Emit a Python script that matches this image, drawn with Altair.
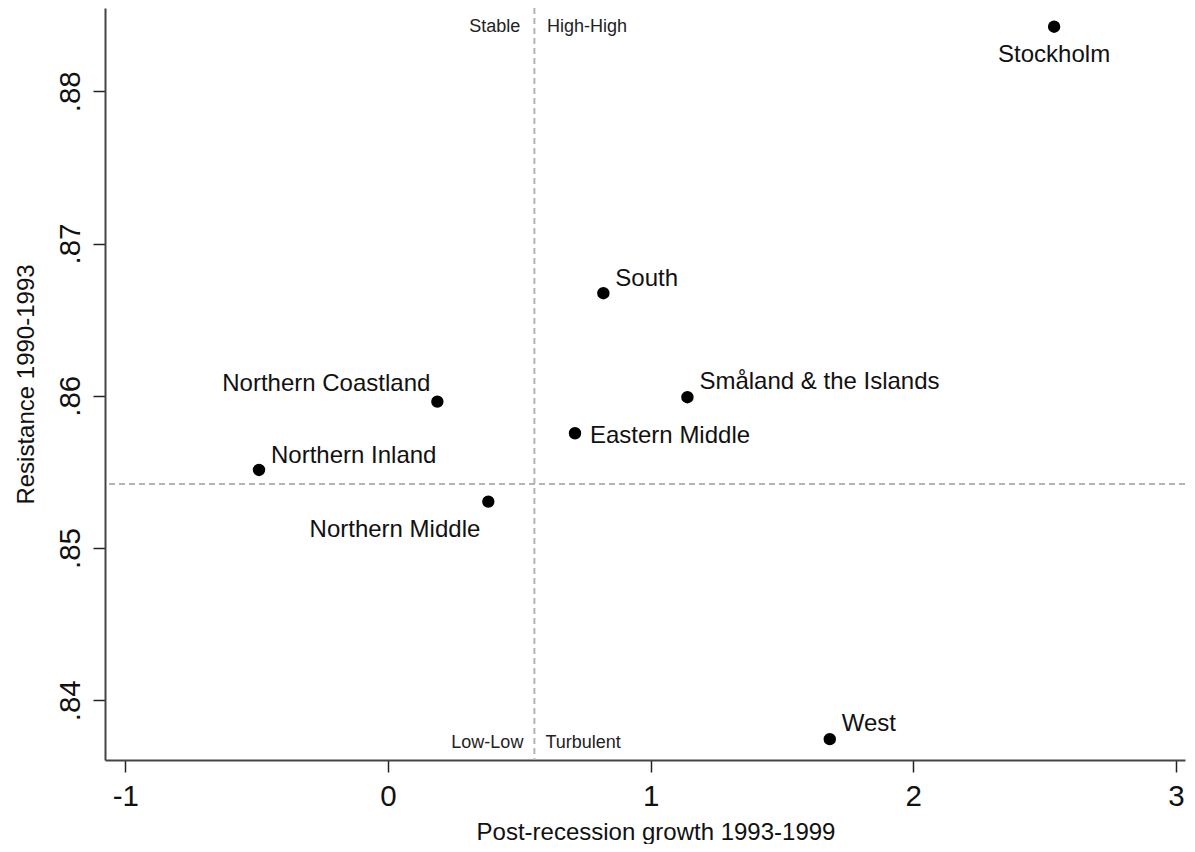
import altair as alt
import pandas as pd

FONT = "Liberation Sans"

# ---- data ----
regions = ["Stockholm", "South", "Småland & the Islands", "Northern Coastland",
           "Eastern Middle", "Northern Inland", "Northern Middle", "West"]
growth = [2.536, 0.820, 1.140, 0.188, 0.712, -0.491, 0.382, 1.682]
resistance = [0.88424, 0.86674, 0.85991, 0.85962, 0.85754, 0.85513, 0.85305, 0.83745]

x_ticks = [-1, 0, 1, 2, 3]
y_ticks = [0.84, 0.85, 0.86, 0.87, 0.88]
x_ref = 0.5574
y_ref = 0.8542
x_domain = [-1.0773, 3.0343]
y_domain = [0.83608, 0.88547]

quadrants_top = ["Stable", "High-High"]
quadrants_bottom = ["Low-Low", "Turbulent"]

# ---- tables ----
df = pd.DataFrame({"region": regions, "growth": growth, "resistance": resistance})
df_vref = pd.DataFrame({"growth": [x_ref]})
df_href = pd.DataFrame({"resistance": [y_ref]})

X = alt.X("growth:Q",
          scale=alt.Scale(domain=x_domain, nice=False, zero=False),
          axis=alt.Axis(values=x_ticks, labelExpr="'' + datum.value", grid=False,
                        tickSize=12, tickColor="#222", tickWidth=1.5,
                        domainColor="#444", domainWidth=2,
                        labelFont=FONT, labelFontSize=29.5, labelColor="#111",
                        labelBaseline="alphabetic", labelPadding=33,
                        labelFlush=False, labelOverlap=False,
                        title="Post-recession growth 1993-1999",
                        titleFont=FONT, titleFontSize=24, titleFontWeight="normal",
                        titleColor="#111", titleBaseline="alphabetic",
                        titleAlign="center", titleX=550.5, titleY=79.5))
Y = alt.Y("resistance:Q",
          scale=alt.Scale(domain=y_domain, nice=False, zero=False),
          axis=alt.Axis(values=y_ticks,
                        labelExpr="replace(format(datum.value, '.2f'), '0.', '.')",
                        grid=False, tickSize=12, tickColor="#222", tickWidth=1.5,
                        domainColor="#444", domainWidth=2,
                        labelFont=FONT, labelFontSize=29.5, labelColor="#111",
                        labelAngle=270, labelAlign="center", labelBaseline="alphabetic",
                        labelPadding=14, labelFlush=False, labelOverlap=False,
                        title="Resistance 1990-1993",
                        titleFont=FONT, titleFontSize=24, titleFontWeight="normal",
                        titleColor="#111", titleAngle=270, titleBaseline="alphabetic",
                        titleAlign="center", titleX=-71.7))

base = alt.Chart(df)

vrule = alt.Chart(df_vref).mark_rule(color="#b4b4b4", strokeWidth=2, strokeDash=[6, 4]).encode(x=X)
hrule = alt.Chart(df_href).mark_rule(color="#b4b4b4", strokeWidth=2, strokeDash=[6, 4]).encode(y=Y)

points = base.mark_circle(size=154, color="black", opacity=1).encode(x=X, y=Y)

label_style = {
    "Stockholm": dict(align="center", dx=0, dy=35),
    "South": dict(align="left", dx=12, dy=-7),
    "Småland & the Islands": dict(align="left", dx=12, dy=-8),
    "Northern Coastland": dict(align="right", dx=-7, dy=-11),
    "Eastern Middle": dict(align="left", dx=15, dy=10),
    "Northern Inland": dict(align="left", dx=12, dy=-7),
    "Northern Middle": dict(align="right", dx=-8, dy=35),
    "West": dict(align="left", dx=12, dy=-8.5),
}

label_layers = []
for name in regions:
    st = label_style[name]
    label_layers.append(
        base.transform_filter(alt.datum.region == name)
        .mark_text(font=FONT, fontSize=24, color="#111", baseline="alphabetic", **st)
        .encode(x=X, y=Y, text="region:N")
    )

quad_style = {
    "Stable": dict(align="right", dx=-14, dy=23.5),
    "High-High": dict(align="left", dx=12.5, dy=23.5),
    "Low-Low": dict(align="right", dx=-11, dy=-12),
    "Turbulent": dict(align="left", dx=11, dy=-12),
}
quad_layers = []
for q in quadrants_top + quadrants_bottom:
    yv = y_domain[1] if q in quadrants_top else y_domain[0]
    qdf = pd.DataFrame({"growth": [x_ref], "resistance": [yv], "label": [q]})
    quad_layers.append(
        alt.Chart(qdf).mark_text(font=FONT, fontSize=18, color="#222",
                                 baseline="alphabetic", **quad_style[q])
        .encode(x=X, y=Y, text="label:N")
    )

chart = alt.layer(vrule, hrule, points, *label_layers, *quad_layers).properties(
    width=1080, height=752,
    autosize=alt.AutoSizeParams(type="none"),
    padding={"left": 97, "top": 0, "right": 2, "bottom": 84},
    background="white",
).configure_view(stroke=None)

chart.save("out.html", embed_options={"renderer": "svg", "actions": False})
